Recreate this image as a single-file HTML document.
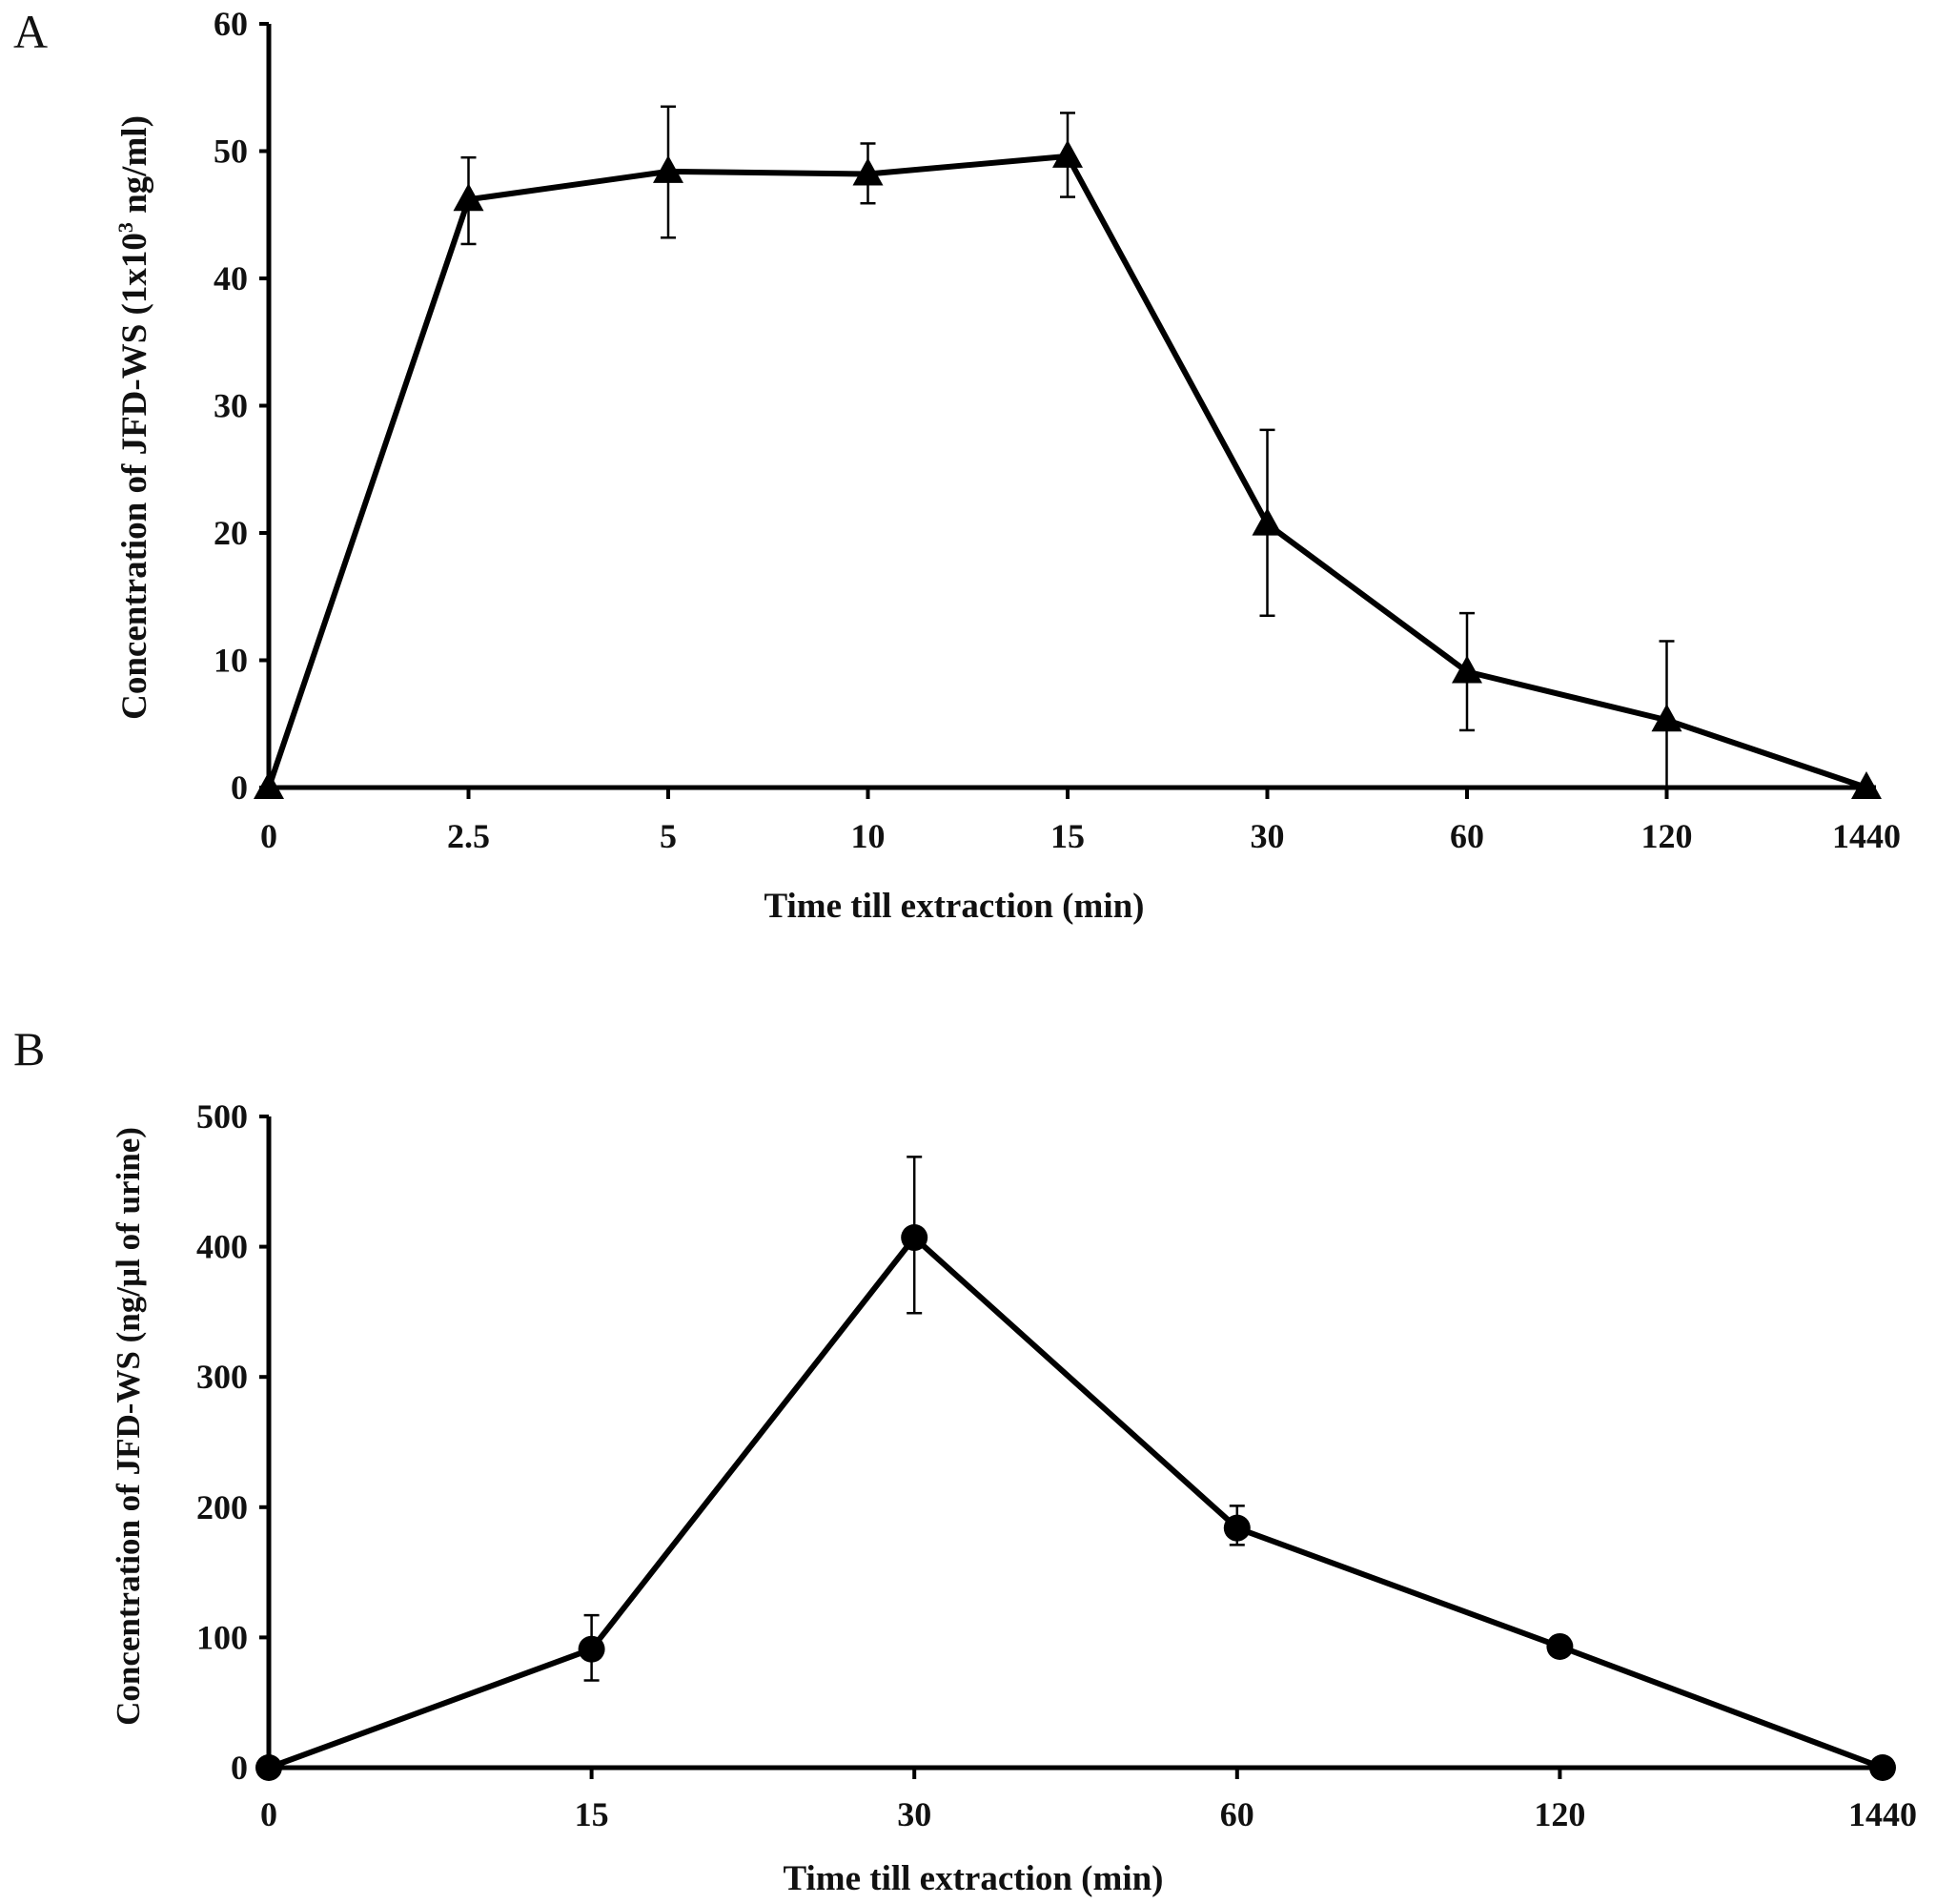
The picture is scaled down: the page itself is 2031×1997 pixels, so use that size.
<!DOCTYPE html>
<html><head><meta charset="utf-8"><style>
html,body{margin:0;padding:0;background:#fff;}
svg{display:block;}
text{font-family:"Liberation Serif",serif;fill:#111;}
</style></head><body>
<svg id="fig" width="2031" height="1997" viewBox="0 0 2031 1997" xmlns="http://www.w3.org/2000/svg">
<text x="14" y="50" font-size="50">A</text>
<text x="14" y="1117" font-size="50">B</text>
<g id="chartA"></g>
<g id="chartB"></g>
</svg>
<script>
const catsA = ["0","2.5","5","10","15","30","60","120","1440"];
const valsA = [0,46.2,48.4,48.2,49.6,20.7,9.1,5.3,0];
const errLoA = [0,42.7,43.2,45.9,46.4,13.5,4.5,0,0];
const errHiA = [0,49.5,53.5,50.6,53.0,28.1,13.7,11.5,0];
const yTicksA = [0,10,20,30,40,50,60];

const catsB = ["0","15","30","60","120","1440"];
const valsB = [0,91,407,184,93,0];
const errLoB = [0,67,349,171,93,0];
const errHiB = [0,117,469,201,93,0];
const yTicksB = [0,100,200,300,400,500];

const NS="http://www.w3.org/2000/svg";
function mk(parent,tag,attrs){const e=document.createElementNS(NS,tag);for(const k in attrs)e.setAttribute(k,attrs[k]);parent.appendChild(e);return e;}

function drawChart(g,cfg){
  const {cats,vals,lo,hi,yTicks,x0,x1,y0,yTop,yMax,marker,xTitle,yTitle,xTitleX,xTitleY,yTitleX,yTitleY,tickY,yFont}=cfg;
  const sx=i=>x0+(x1-x0)*i/(cats.length-1);
  const sy=v=>y0-(y0-yTop)*v/yMax;
  let a=mk(g,'line',{x1:x0,y1:sy(yMax),x2:x0,y2:y0+3,stroke:'#000','stroke-width':5});
  
  
  a=mk(g,'line',{x1:x0-3,y1:y0,x2:x1+10,y2:y0,stroke:'#000','stroke-width':5});
  
  
  yTicks.forEach(t=>{
    const y=sy(t);
    const l=mk(g,'line',{x1:x0-10,y1:y,x2:x0,y2:y,stroke:'#000','stroke-width':4});
    
    
    const tx=mk(g,'text',{x:x0-22,y:y+12,'font-size':36,'font-weight':'bold','text-anchor':'end'});
    tx.textContent=t;
    
    
  });
  cats.forEach((c,i)=>{
    const x=sx(i);
    const l=mk(g,'line',{x1:x,y1:y0,x2:x,y2:y0+12,stroke:'#000','stroke-width':4});
    
    
    const tx=mk(g,'text',{x:x,y:tickY,'font-size':36,'font-weight':'bold','text-anchor':'middle'});
    tx.textContent=c;
    
    
  });
  vals.forEach((v,i)=>{
    if(hi[i]===lo[i])return;
    const x=sx(i);
    const eg=mk(g,'g',{stroke:'#000','stroke-width':2.5});
    
    
    mk(eg,'line',{x1:x,y1:sy(lo[i]),x2:x,y2:sy(hi[i])});
    mk(eg,'line',{x1:x-8,y1:sy(hi[i]),x2:x+8,y2:sy(hi[i])});
    mk(eg,'line',{x1:x-8,y1:sy(lo[i]),x2:x+8,y2:sy(lo[i])});
  });
  const pts=vals.map((v,i)=>sx(i)+','+sy(v)).join(' ');
  const pl=mk(g,'polyline',{points:pts,fill:'none',stroke:'#000','stroke-width':6,'stroke-linejoin':'round'});
  
  
  vals.forEach((v,i)=>{
    const x=sx(i),y=sy(v);let m;
    if(marker==='tri') m=mk(g,'polygon',{points:`${x},${y-17} ${x-16},${y+12} ${x+16},${y+12}`,fill:'#000'});
    else m=mk(g,'circle',{cx:x,cy:y,r:14,fill:'#000'});
    
    
  });
  let t=mk(g,'text',{x:xTitleX,y:xTitleY,'font-size':37,'font-weight':'bold','text-anchor':'middle'});
  t.textContent=xTitle;
  
  
  t=mk(g,'text',{x:0,y:0,'font-size':yFont,'font-weight':'bold','text-anchor':'middle',transform:`translate(${yTitleX},${yTitleY}) rotate(-90)`});
  t.textContent=yTitle;
  
  
  return t;
}
const tA=drawChart(document.getElementById('chartA'),{cats:catsA,vals:valsA,lo:errLoA,hi:errHiA,yTicks:yTicksA,
  x0:282,x1:1958,y0:826,yTop:25,yMax:60,marker:'tri',xTitle:'Time till extraction (min)',yTitle:'',
  xTitleX:1001,xTitleY:962,yTitleX:153,yTitleY:438,tickY:889,yFont:37});
tA.innerHTML='Concentration of JFD-WS (1x10<tspan font-size="22" dy="-14">3</tspan><tspan dy="14"> ng/ml)</tspan>';
drawChart(document.getElementById('chartB'),{cats:catsB,vals:valsB,lo:errLoB,hi:errHiB,yTicks:yTicksB,
  x0:282,x1:1975,y0:1854,yTop:1171,yMax:500,marker:'circ',xTitle:'Time till extraction (min)',yTitle:'Concentration of JFD-WS (ng/µl of urine)',
  xTitleX:1021,xTitleY:1982,yTitleX:146,yTitleY:1496,tickY:1915,yFont:35});
</script>
</body></html>
